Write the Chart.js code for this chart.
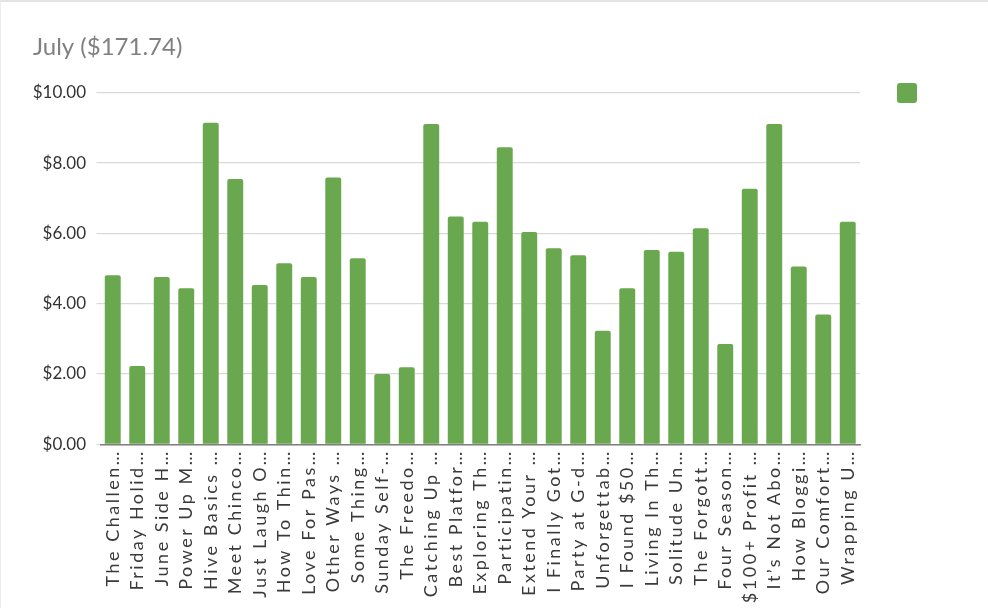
<!DOCTYPE html>
<html>
<head>
<meta charset="utf-8">
<script src="https://cdn.jsdelivr.net/npm/chart.js@4/dist/chart.umd.min.js"></script>
<style>
  html, body { margin: 0; padding: 0; background: #ffffff; }
  #wrap { position: relative; width: 988px; height: 608px; }
  #frame { position: absolute; left: 0; top: 0; right: 0; bottom: 0; border-top: 2px solid #e3e3e3; border-left: 1px solid #ececec; pointer-events: none; }
</style>
</head>
<body>
<div id="wrap">
  <canvas id="c"></canvas>
  <div id="frame"></div>
</div>
<script>
const chartTitle = 'July ($171.74)';

const categories = [
  'The Challen…', 'Friday Holid…', 'June Side H…', 'Power Up M…', 'Hive Basics …',
  'Meet Chinco…', 'Just Laugh O…', 'How To Thin…', 'Love For Pas…', 'Other Ways …',
  'Some Thing…', 'Sunday Self-…', 'The Freedo…', 'Catching Up …', 'Best Platfor…',
  'Exploring Th…', 'Participatin…', 'Extend Your …', 'I Finally Got…', 'Party at G-d…',
  'Unforgettab…', 'I Found $50…', 'Living In Th…', 'Solitude Un…', 'The Forgott…',
  'Four Season…', '$100+ Profit …', 'It’s Not Abo…', 'How Bloggi…', 'Our Comfort…',
  'Wrapping U…'
];

const earnings = [
  4.81, 2.23, 4.76, 4.44, 9.15,
  7.55, 4.53, 5.15, 4.76, 7.59,
  5.29, 2.00, 2.19, 9.11, 6.48,
  6.33, 8.45, 6.04, 5.58, 5.38,
  3.23, 4.44, 5.53, 5.48, 6.15,
  2.85, 7.27, 9.11, 5.06, 3.69,
  6.33
];

const yTickLabels = ['$0.00', '$2.00', '$4.00', '$6.00', '$8.00', '$10.00'];

const barGreen = '#6aa84f';

// letter spacing only for the x-axis labels (drawn in a z>0 layer after the bars)
const spacingPlugin = {
  id: 'xLabelSpacing',
  afterDatasetsDraw(chart) { chart.ctx.letterSpacing = '2.5px'; },
  afterDraw(chart) { chart.ctx.letterSpacing = '0px'; }
};

new Chart(document.getElementById('c'), {
  type: 'bar',
  data: {
    labels: categories,
    datasets: [{
      label: '',
      data: earnings,
      backgroundColor: barGreen,
      borderWidth: 0,
      borderRadius: 2,
      barPercentage: 0.65,
      categoryPercentage: 1.0
    }]
  },
  options: {
    responsive: true,
    maintainAspectRatio: false,
    animation: false,
    layout: { padding: { left: 33, top: 10, right: 15, bottom: 0 } },
    plugins: {
      tooltip: { enabled: false },
      title: {
        display: true,
        text: chartTitle,
        align: 'start',
        color: '#808080',
        font: { family: 'Lato', size: 24, weight: 'normal' },
        padding: { top: 23, bottom: 31 }
      },
      legend: {
        display: true,
        position: 'right',
        align: 'start',
        labels: {
          boxWidth: 20,
          boxHeight: 20,
          padding: 37,
          useBorderRadius: true,
          borderRadius: 3,
          font: { family: 'Lato', size: 92 }
        }
      }
    },
    scales: {
      x: {
        grid: { display: false, drawTicks: false },
        border: { display: true, color: '#7f7f7f', width: 1.5 },
        ticks: {
          autoSkip: false,
          maxRotation: 90,
          minRotation: 90,
          padding: 5,
          z: 1,
          color: '#3a3a3a',
          font: { family: 'Lato', size: 18 }
        },
        afterFit(scale) { scale.height = 163.7; }
      },
      y: {
        min: 0,
        max: 10,
        border: { display: false },
        grid: { color: '#d9d9d9', lineWidth: 1.2, drawTicks: true, tickLength: 4, tickColor: '#d9d9d9' },
        ticks: {
          stepSize: 2,
          padding: 10.5,
          color: '#333333',
          font: { family: 'Lato', size: 17 },
          callback: (v, i) => yTickLabels[i]
        },
        afterFit(scale) { scale.width = 67.5; }
      }
    }
  },
  plugins: [spacingPlugin]
});
</script>
</body>
</html>
